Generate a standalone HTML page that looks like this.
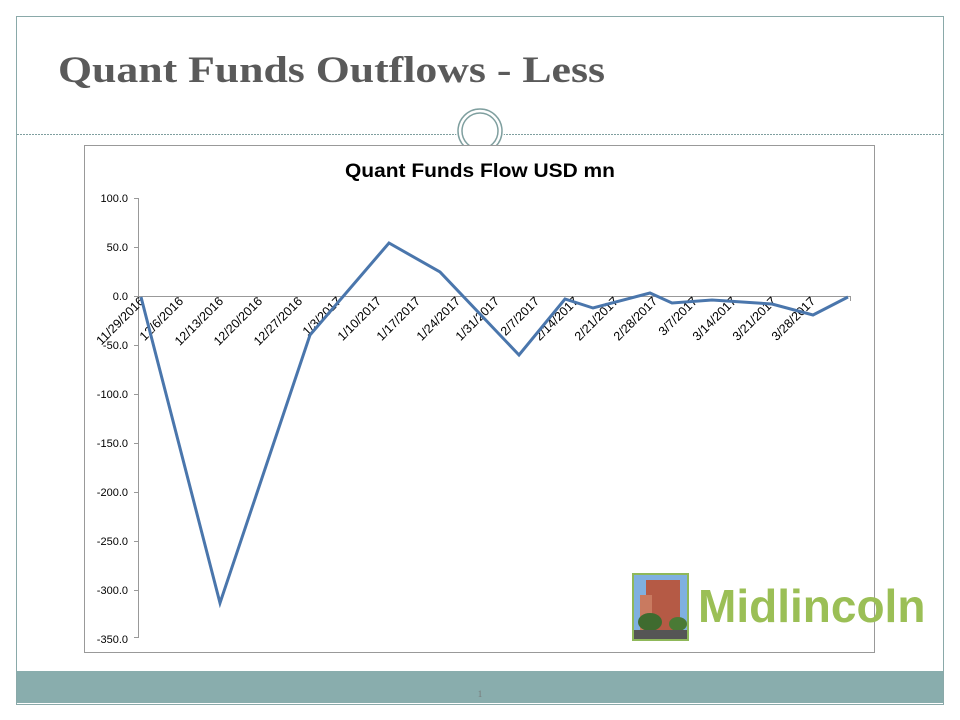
<!DOCTYPE html>
<html><head><meta charset="utf-8"><style>
body{margin:0;background:#fff;width:960px;height:720px;overflow:hidden;position:relative;font-family:"Liberation Sans",sans-serif}
</style></head><body>
<svg width="960" height="720" style="position:absolute;left:0;top:0">
<rect x="16.5" y="16.5" width="927" height="688" fill="#fff" stroke="#8aa9a9" stroke-width="1"/>
<rect x="17" y="671" width="926" height="32" fill="#89adad"/>
<text x="480" y="697" font-size="9" fill="#777" text-anchor="middle" font-family="Liberation Serif">1</text>
<text x="58" y="82" font-family="Liberation Serif,serif" font-weight="bold" font-size="37" fill="#5a5a5a" textLength="547" lengthAdjust="spacingAndGlyphs">Quant Funds Outflows - Less</text>
<line x1="17" y1="134.5" x2="943" y2="134.5" stroke="#7f9f9f" stroke-dasharray="2,1"/>
<circle cx="480" cy="131" r="24" fill="#fff"/>
<circle cx="480" cy="131" r="22" fill="none" stroke="#7f9f9f" stroke-width="1.5"/>
<circle cx="480" cy="131" r="18" fill="none" stroke="#7f9f9f" stroke-width="1.5"/>
<rect x="84.5" y="145.5" width="790" height="507" fill="#fff" stroke="#999"/>
<text x="480" y="177" text-anchor="middle" font-weight="bold" font-size="19" fill="#000" textLength="270" lengthAdjust="spacingAndGlyphs">Quant Funds Flow USD mn</text>
<g font-size="11" fill="#000" text-anchor="end">
<text x="128" y="202">100.0</text><text x="128" y="251">50.0</text><text x="128" y="300">0.0</text>
<text x="128" y="349">-50.0</text><text x="128" y="398">-100.0</text><text x="128" y="447">-150.0</text>
<text x="128" y="496">-200.0</text><text x="128" y="545">-250.0</text><text x="128" y="594">-300.0</text><text x="128" y="643">-350.0</text>
</g>
<g stroke="#999" stroke-width="1">
<line x1="138.5" y1="198" x2="138.5" y2="638"/>
<line x1="134" y1="198.5" x2="138" y2="198.5"/><line x1="134" y1="247.5" x2="138" y2="247.5"/>
<line x1="134" y1="345.5" x2="138" y2="345.5"/><line x1="134" y1="394.5" x2="138" y2="394.5"/>
<line x1="134" y1="443.5" x2="138" y2="443.5"/><line x1="134" y1="492.5" x2="138" y2="492.5"/>
<line x1="134" y1="541.5" x2="138" y2="541.5"/><line x1="134" y1="590.5" x2="138" y2="590.5"/>
<line x1="134" y1="637.5" x2="138" y2="637.5"/>
<line x1="134" y1="296.5" x2="850" y2="296.5"/>
<path d="M178.5 296v5M218.5 296v5M257.5 296v5M297.5 296v5M336.5 296v5M376.5 296v5M415.5 296v5M455.5 296v5M494.5 296v5M534.5 296v5M573.5 296v5M613.5 296v5M652.5 296v5M692.5 296v5M731.5 296v5M771.5 296v5M810.5 296v5M850.5 296v5"/>
</g>
<g font-size="12.5" fill="#000" text-anchor="end">
<text transform="translate(145,302) rotate(-45)">11/29/2016</text>
<text transform="translate(184,302) rotate(-45)">12/6/2016</text>
<text transform="translate(224,302) rotate(-45)">12/13/2016</text>
<text transform="translate(263,302) rotate(-45)">12/20/2016</text>
<text transform="translate(303,302) rotate(-45)">12/27/2016</text>
<text transform="translate(342,302) rotate(-45)">1/3/2017</text>
<text transform="translate(382,302) rotate(-45)">1/10/2017</text>
<text transform="translate(421,302) rotate(-45)">1/17/2017</text>
<text transform="translate(461,302) rotate(-45)">1/24/2017</text>
<text transform="translate(500,302) rotate(-45)">1/31/2017</text>
<text transform="translate(540,302) rotate(-45)">2/7/2017</text>
<text transform="translate(579,302) rotate(-45)">2/14/2017</text>
<text transform="translate(619,302) rotate(-45)">2/21/2017</text>
<text transform="translate(658,302) rotate(-45)">2/28/2017</text>
<text transform="translate(698,302) rotate(-45)">3/7/2017</text>
<text transform="translate(737,302) rotate(-45)">3/14/2017</text>
<text transform="translate(777,302) rotate(-45)">3/21/2017</text>
<text transform="translate(816,302) rotate(-45)">3/28/2017</text>
</g>
<polyline fill="none" stroke="#4a76ac" stroke-width="3" stroke-linejoin="miter" points="141,297 220,603 310,335 389,243 440,272 519,355 565,299 593,308 650,293 672,303 712,300 772,304 813,315 848,297"/>
<rect x="632" y="573" width="57" height="68" fill="#8fb85a"/>
<rect x="634" y="575" width="53" height="64" fill="#7fb0e0"/>
<rect x="646" y="580" width="34" height="50" fill="#b55a45"/>
<rect x="640" y="595" width="12" height="35" fill="#c97a60"/>
<ellipse cx="650" cy="622" rx="12" ry="9" fill="#3f6b2f"/>
<ellipse cx="678" cy="624" rx="9" ry="7" fill="#4a7a35"/>
<rect x="634" y="630" width="53" height="9" fill="#555"/>
<text x="698" y="622" font-weight="bold" font-size="46" fill="#9bbf56">Midlincoln</text>
</svg>
</body></html>
